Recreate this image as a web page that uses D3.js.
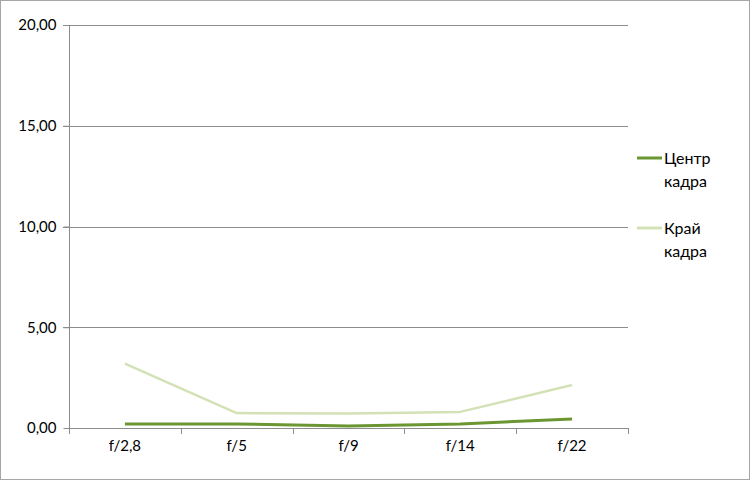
<!DOCTYPE html>
<html><head><meta charset="utf-8">
<script src="https://cdn.jsdelivr.net/npm/d3@7"></script>
<style>body{margin:0;background:#fff}svg{display:block}</style>
</head><body>
<script>
const categories = ["f/2,8","f/5","f/9","f/14","f/22"];
const centerValues = [0.2,0.2,0.1,0.2,0.45];
const edgeValues = [3.2,0.74,0.72,0.8,2.13];
const yTicks = [0,5,10,15,20];
const seriesNames = ["Центр кадра","Край кадра"];

const W=750,H=480;
const m={left:69,right:122,top:25,bottom:52};
const svg=d3.select("body").append("svg").attr("width",W).attr("height",H);
svg.append("rect").attr("x",0.5).attr("y",0.5).attr("width",W-1).attr("height",H-1)
  .attr("fill","#fff").attr("stroke","#a6a6a6");

const x=d3.scaleBand().domain(categories).range([m.left,W-m.right]);
const y=d3.scaleLinear().domain([0,20]).range([H-m.bottom,m.top]);
const font="Lato, 'Open Sans', sans-serif";

svg.append("g").selectAll("line").data(yTicks.filter(d=>d>0)).join("line")
  .attr("x1",m.left-6).attr("x2",W-m.right)
  .attr("y1",d=>Math.round(y(d))+0.5).attr("y2",d=>Math.round(y(d))+0.5)
  .attr("stroke","#8c8c8c").attr("stroke-width",1);

const ya=svg.append("g").attr("transform",`translate(${m.left+0.5},0)`)
  .call(d3.axisLeft(y).tickValues(yTicks).tickSize(6).tickPadding(7)
    .tickFormat(d=>d3.format(".2f")(d).replace(".",",")));
ya.select(".domain").attr("stroke","#8c8c8c").attr("d",`M0,${m.top}V${H-m.bottom}`);
ya.selectAll(".tick line").attr("stroke","#8c8c8c");
ya.selectAll("text").attr("font-family",font).attr("font-size",15).attr("fill","#000");

const xa=svg.append("g").attr("transform",`translate(0,${Math.round(y(0))+0.5})`)
  .call(d3.axisBottom(x).tickSize(0).tickPadding(12));
xa.select(".domain").attr("stroke","#8c8c8c").attr("d",`M${m.left},0H${W-m.right}`);
xa.selectAll("text").attr("font-family",font).attr("font-size",15).attr("fill","#000");
const bounds=categories.map(c=>x(c)).concat([x(categories[categories.length-1])+x.bandwidth()]);
svg.append("g").selectAll("line").data(bounds).join("line")
  .attr("x1",d=>Math.round(d)+0.5).attr("x2",d=>Math.round(d)+0.5)
  .attr("y1",Math.round(y(0))).attr("y2",Math.round(y(0))+6)
  .attr("stroke","#8c8c8c");

const cx=c=>x(c)+x.bandwidth()/2;
const line=d3.line().x((d,i)=>cx(categories[i])).y(d=>y(d));
const colors=["#6b9632","#d3e2b6"];
svg.append("path").datum(edgeValues).attr("d",line).attr("fill","none")
  .attr("stroke",colors[1]).attr("stroke-width",2.5).attr("stroke-linejoin","round");
svg.append("path").datum(centerValues).attr("d",line).attr("fill","none")
  .attr("stroke",colors[0]).attr("stroke-width",3).attr("stroke-linejoin","round");

const leg=[{y:158,lines:["Центр","кадра"],c:colors[0]},{y:228,lines:["Край","кадра"],c:colors[1]}];
leg.forEach((L,i)=>{
  svg.append("line").attr("x1",637).attr("x2",662).attr("y1",L.y).attr("y2",L.y)
    .attr("stroke",L.c).attr("stroke-width",3);
  L.lines.forEach((t,j)=>{
    svg.append("text").attr("x",664).attr("y",L.y+6+j*23).text(t)
      .attr("font-family",font).attr("font-size",16).attr("fill","#000");
  });
});
</script>
</body></html>
